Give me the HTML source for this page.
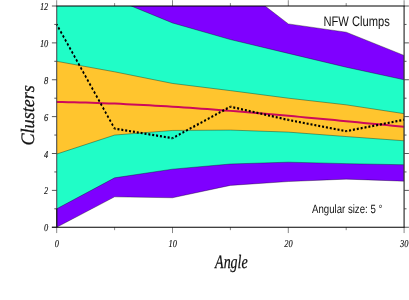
<!DOCTYPE html>
<html><head><meta charset="utf-8"><title>NFW Clumps</title>
<style>
html,body{margin:0;padding:0;background:#fff;}
body{width:409px;height:300px;overflow:hidden;font-family:"Liberation Sans",sans-serif;}
svg{display:block;will-change:transform;opacity:0.999;}
text{text-rendering:geometricPrecision;}
.tl text{font-family:"Liberation Serif",serif;font-style:italic;font-size:10.5px;fill:#111;stroke:#111;stroke-width:0.15px;}
.ax{font-family:"Liberation Serif",serif;font-style:italic;fill:#111;stroke:#111;stroke-width:0.25px;}
.sans{font-family:"Liberation Sans",sans-serif;fill:#111;}
</style></head><body>
<svg width="409" height="300" viewBox="0 0 409 300">
<defs><clipPath id="c"><rect x="56.70" y="6.00" width="347.40" height="221.25"/></clipPath></defs>
<rect width="409" height="300" fill="#fff"/>
<g clip-path="url(#c)" stroke="#000" stroke-width="0.35" stroke-linejoin="round">
<polygon fill="#7f00ff" points="56.70,-76.97 114.60,-60.38 172.50,-41.94 230.40,-20.73 288.30,23.88 346.20,32.18 404.10,55.41 404.10,181.16 346.20,179.13 288.30,181.53 230.40,185.40 172.50,197.75 114.60,196.83 56.70,227.25"/>
<polygon fill="#20fdc7" points="56.70,-23.50 114.60,-0.82 172.50,22.96 230.40,39.56 288.30,53.38 346.20,67.21 404.10,79.75 404.10,164.75 346.20,163.64 288.30,162.17 230.40,164.01 172.50,169.17 114.60,177.84 56.70,208.81"/>
<polygon fill="#ffc52e" points="56.70,61.31 114.60,71.82 172.50,83.44 230.40,90.63 288.30,98.19 346.20,104.83 404.10,113.67 404.10,140.78 346.20,136.54 288.30,132.11 230.40,130.08 172.50,130.45 114.60,135.06 56.70,154.05"/>
</g>
<g transform="scale(1,1.28)">
<polyline fill="none" stroke="#cc0a5c" stroke-width="1.56" points="56.70,79.636 62.49,79.712 68.28,79.801 74.07,79.902 79.86,80.016 85.65,80.143 91.44,80.282 97.23,80.432 103.02,80.595 108.81,80.769 114.60,80.954 120.39,81.149 126.18,81.356 131.97,81.573 137.76,81.800 143.55,82.038 149.34,82.284 155.13,82.541 160.92,82.806 166.71,83.081 172.50,83.364 178.29,83.656 184.08,83.956 189.87,84.264 195.66,84.580 201.45,84.903 207.24,85.233 213.03,85.571 218.82,85.915 224.61,86.266 230.40,86.623 236.19,86.986 241.98,87.355 247.77,87.729 253.56,88.109 259.35,88.494 265.14,88.883 270.93,89.277 276.72,89.676 282.51,90.078 288.30,90.485 294.09,90.895 299.88,91.308 305.67,91.724 311.46,92.143 317.25,92.565 323.04,92.989 328.83,93.415 334.62,93.843 340.41,94.273 346.20,94.704 351.99,95.136 357.78,95.570 363.57,96.003 369.36,96.437 375.15,96.872 380.94,97.306 386.73,97.740 392.52,98.173 398.31,98.605 404.10,99.037"/>
<line x1="56.70" y1="19.092" x2="114.60" y2="100.476" stroke="#000" stroke-width="1.75" stroke-dasharray="2.000 1.841" stroke-dashoffset="1.000"/>
<line x1="114.60" y1="100.476" x2="172.50" y2="107.966" stroke="#000" stroke-width="1.75" stroke-dasharray="2.000 1.892" stroke-dashoffset="1.000"/>
<line x1="172.50" y1="107.966" x2="230.40" y2="83.335" stroke="#000" stroke-width="1.75" stroke-dasharray="2.000 1.933" stroke-dashoffset="1.000"/>
<line x1="230.40" y1="83.335" x2="288.30" y2="93.706" stroke="#000" stroke-width="1.75" stroke-dasharray="2.000 1.921" stroke-dashoffset="1.000"/>
<line x1="288.30" y1="93.706" x2="346.20" y2="102.493" stroke="#000" stroke-width="1.75" stroke-dasharray="2.000 1.904" stroke-dashoffset="1.000"/>
<line x1="346.20" y1="102.493" x2="404.10" y2="93.562" stroke="#000" stroke-width="1.75" stroke-dasharray="2.000 1.906" stroke-dashoffset="1.000"/>
</g>
<g stroke="#222" stroke-width="0.75"><line x1="51.90" y1="227.25" x2="56.70" y2="227.25"/><line x1="404.10" y1="227.25" x2="408.90" y2="227.25"/><line x1="54.30" y1="208.81" x2="56.70" y2="208.81"/><line x1="404.10" y1="208.81" x2="406.50" y2="208.81"/><line x1="51.90" y1="190.38" x2="56.70" y2="190.38"/><line x1="404.10" y1="190.38" x2="408.90" y2="190.38"/><line x1="54.30" y1="171.94" x2="56.70" y2="171.94"/><line x1="404.10" y1="171.94" x2="406.50" y2="171.94"/><line x1="51.90" y1="153.50" x2="56.70" y2="153.50"/><line x1="404.10" y1="153.50" x2="408.90" y2="153.50"/><line x1="54.30" y1="135.06" x2="56.70" y2="135.06"/><line x1="404.10" y1="135.06" x2="406.50" y2="135.06"/><line x1="51.90" y1="116.62" x2="56.70" y2="116.62"/><line x1="404.10" y1="116.62" x2="408.90" y2="116.62"/><line x1="54.30" y1="98.19" x2="56.70" y2="98.19"/><line x1="404.10" y1="98.19" x2="406.50" y2="98.19"/><line x1="51.90" y1="79.75" x2="56.70" y2="79.75"/><line x1="404.10" y1="79.75" x2="408.90" y2="79.75"/><line x1="54.30" y1="61.31" x2="56.70" y2="61.31"/><line x1="404.10" y1="61.31" x2="406.50" y2="61.31"/><line x1="51.90" y1="42.88" x2="56.70" y2="42.88"/><line x1="404.10" y1="42.88" x2="408.90" y2="42.88"/><line x1="54.30" y1="24.44" x2="56.70" y2="24.44"/><line x1="404.10" y1="24.44" x2="406.50" y2="24.44"/><line x1="51.90" y1="6.00" x2="56.70" y2="6.00"/><line x1="404.10" y1="6.00" x2="408.90" y2="6.00"/></g>
<g stroke="#222" stroke-width="0.55"><line x1="56.70" y1="227.25" x2="56.70" y2="233.05"/><line x1="56.70" y1="6.00" x2="56.70" y2="0.20"/><line x1="114.60" y1="227.25" x2="114.60" y2="230.15"/><line x1="114.60" y1="6.00" x2="114.60" y2="3.10"/><line x1="172.50" y1="227.25" x2="172.50" y2="233.05"/><line x1="172.50" y1="6.00" x2="172.50" y2="0.20"/><line x1="230.40" y1="227.25" x2="230.40" y2="230.15"/><line x1="230.40" y1="6.00" x2="230.40" y2="3.10"/><line x1="288.30" y1="227.25" x2="288.30" y2="233.05"/><line x1="288.30" y1="6.00" x2="288.30" y2="0.20"/><line x1="346.20" y1="227.25" x2="346.20" y2="230.15"/><line x1="346.20" y1="6.00" x2="346.20" y2="3.10"/><line x1="404.10" y1="227.25" x2="404.10" y2="233.05"/><line x1="404.10" y1="6.00" x2="404.10" y2="0.20"/></g>
<line x1="56.70" y1="208.44" x2="56.70" y2="227.25" stroke="#000" stroke-width="1.1"/>
<line x1="51.90" y1="227.25" x2="56.70" y2="227.25" stroke="#000" stroke-width="0.9"/>
<line x1="56.70" y1="6.00" x2="56.70" y2="227.25" stroke="#333" stroke-width="0.75"/>
<line x1="404.10" y1="6.00" x2="404.10" y2="227.25" stroke="#3a3a3a" stroke-width="1.25"/>
<line x1="56.40" y1="6.00" x2="404.60" y2="6.00" stroke="#000" stroke-width="1.05"/>
<line x1="56.40" y1="227.25" x2="404.60" y2="227.25" stroke="#000" stroke-width="1.1"/>
<g class="tl"><text transform="translate(48.3,231.25) scale(0.8,1)" text-anchor="end">0</text><text transform="translate(48.3,194.38) scale(0.8,1)" text-anchor="end">2</text><text transform="translate(48.3,157.50) scale(0.8,1)" text-anchor="end">4</text><text transform="translate(48.3,120.62) scale(0.8,1)" text-anchor="end">6</text><text transform="translate(48.3,83.75) scale(0.8,1)" text-anchor="end">8</text><text transform="translate(48.3,46.88) scale(0.8,1)" text-anchor="end">10</text><text transform="translate(48.3,10.00) scale(0.8,1)" text-anchor="end">12</text><text transform="translate(56.90,246.6) scale(0.8,1)" text-anchor="middle">0</text><text transform="translate(172.70,246.6) scale(0.8,1)" text-anchor="middle">10</text><text transform="translate(288.50,246.6) scale(0.8,1)" text-anchor="middle">20</text><text transform="translate(404.30,246.6) scale(0.8,1)" text-anchor="middle">30</text></g>
<text class="ax" font-size="19" transform="translate(33.5,145.5) rotate(-90) scale(0.953,1)">Clusters</text>
<text class="ax" font-size="19" transform="translate(215.1,268) scale(0.735,1)">Angle</text>
<text class="sans" font-size="14" transform="translate(323.5,25.8) scale(0.797,1)">NFW Clumps</text>
<text class="sans" font-size="12" transform="translate(312,212.8) scale(0.803,1)">Angular size: 5 °</text>
</svg>
</body></html>
